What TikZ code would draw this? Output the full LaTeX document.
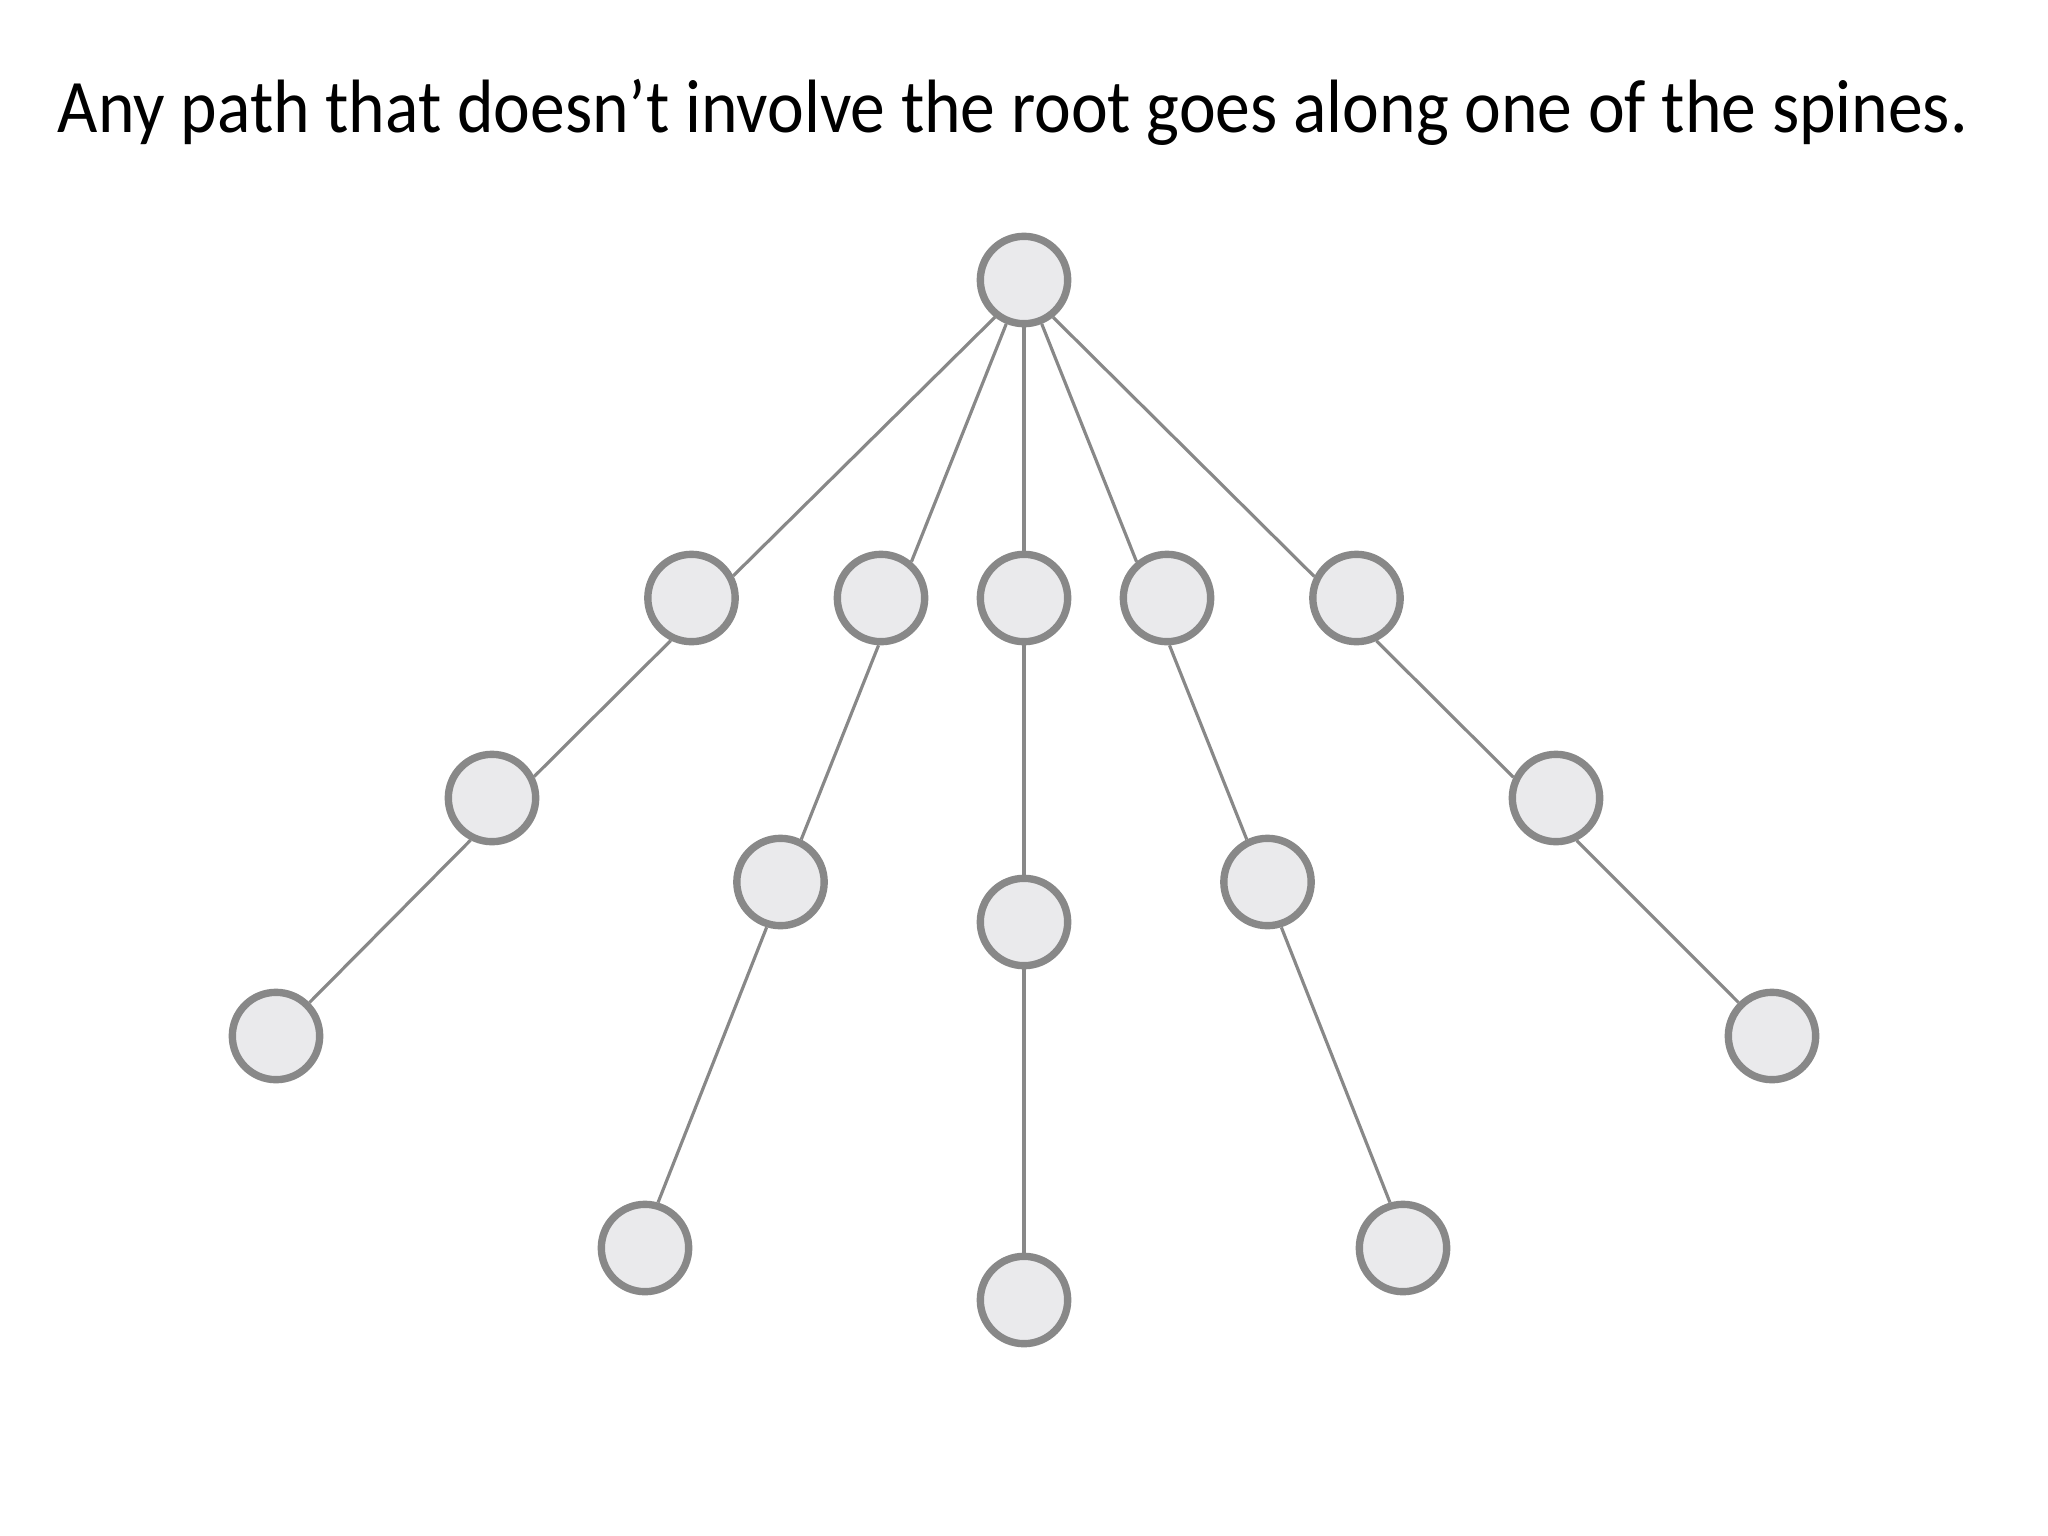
\documentclass[tikz,border=0pt]{standalone}
\usepackage{fontspec}
\setmainfont{Carlito}
\pgfdeclarelayer{background}
\pgfsetlayers{background,main}
\def\treenodes{{(1024,280)/r}, {(691.5,598)/a1}, {(881,598)/b1}, {(1024,598)/c1}, {(1167,598)/d1}, {(1356.5,598)/e1}, {(492,798)/a2}, {(276,1036)/a3}, {(780.5,882)/b2}, {(645,1248)/b3}, {(1024,922)/c2}, {(1024,1300)/c3}, {(1267.5,882)/d2}, {(1403,1248)/d3}, {(1556,798)/e2}, {(1772,1036)/e3}}
\def\connect{r.232/a1.28, r.248/b1.50, r.south/c1.north, r.292/d1.130, r.308/e1.153, a1.244/a2.27, a2.243/a3.45, b1.267/b2.64, b2.253/b3.74, c1.south/c2.north, c2.south/c3.north, d1.273/d2.116, d2.287/d3.106, e1.295/e2.154, e2.296/e3.135}
\definecolor{node edge}{HTML}{888888}
\definecolor{node area}{HTML}{EAEAEC}
\tikzstyle{vertex}=[circle, draw=node edge, fill=node area, line width=2.1pt, minimum size=0.873cm, inner sep=0pt]
\tikzstyle{edge} = [draw, line width=0.9pt, node edge, -]
\begin{document}
\begin{tikzpicture}[x=0.01cm, y=-0.01cm]
  \useasboundingbox (0,0) rectangle (2048,1536);

  % The title
  \node[anchor=base, inner sep=0pt] (title) at (1013,132) {\resizebox{19.09cm}{\height}{\fontsize{21.5}{26}\selectfont Any path that doesn’t involve the root goes along one of the spines.}};

  % The tree
  \foreach \pos/\name in \treenodes
    \node[vertex] (\name) at \pos {};

  % The spines
  \begin{pgfonlayer}{background}
    \foreach \source/\sink in \connect
      \path[edge] (\source) -- (\sink);
  \end{pgfonlayer}
\end{tikzpicture}
\end{document}
